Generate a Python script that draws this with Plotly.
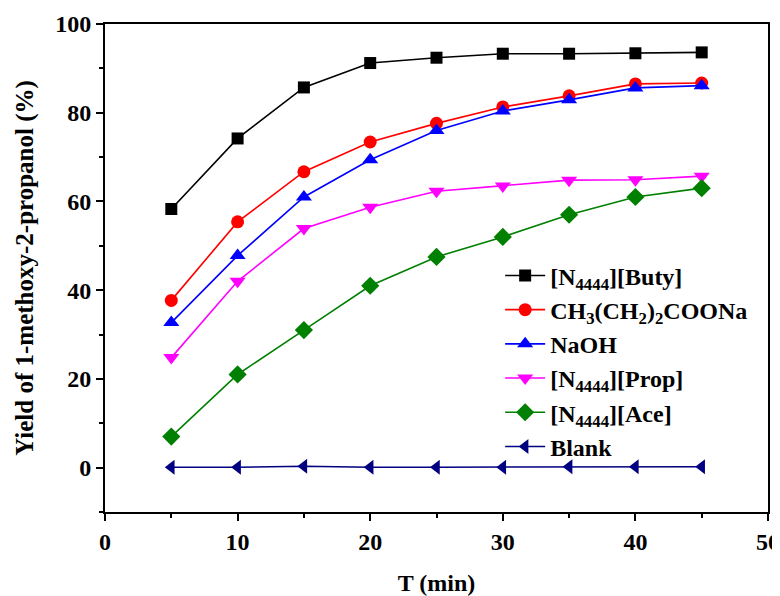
import plotly.graph_objects as go

t = [5, 10, 15, 20, 25, 30, 35, 40, 45]
buty = [58.3, 74.2, 85.7, 91.2, 92.4, 93.3, 93.3, 93.4, 93.6]
ch3 = [37.7, 55.4, 66.7, 73.4, 77.6, 81.3, 83.8, 86.5, 86.7]
naoh = [32.7, 47.8, 61.0, 69.4, 76.0, 80.4, 82.9, 85.6, 86.1]
prop = [24.8, 42.0, 53.9, 58.7, 62.3, 63.5, 64.8, 64.9, 65.7]
ace = [7.0, 21.0, 31.0, 41.0, 47.5, 52.0, 57.0, 61.0, 63.0]
blank = [0.1, 0.1, 0.3, 0.1, 0.1, 0.1, 0.2, 0.2, 0.2]

names = ["[N<sub>4444</sub>][Buty]", "CH<sub>3</sub>(CH<sub>2</sub>)<sub>2</sub>COONa", "NaOH",
         "[N<sub>4444</sub>][Prop]", "[N<sub>4444</sub>][Ace]", "Blank"]
series = [buty, ch3, naoh, prop, ace, blank]
colors = ["#000000", "#FF0000", "#0000FF", "#FF00FF", "#008000", "#000080"]
symbols = ["square", "circle", "triangle-up", "triangle-down", "diamond", "triangle-left"]
sizes = [12, 13, 14, 14, 14, 13]

fig = go.Figure()
for i, (n, s, c, sym, sz) in enumerate(zip(names, series, colors, symbols, sizes)):
    fig.add_trace(go.Scatter(x=t, y=s, name="<b>" + n + "</b>", mode="lines+markers",
                             line=dict(color=c, width=1.6),
                             marker=dict(symbol=sym, size=sz, color=c),
                             legendgroup=str(i)))

font = "Liberation Serif, Times New Roman, serif"
axis_common = dict(showline=True, linecolor="black", linewidth=2, mirror=True,
                   ticks="outside", ticklen=7, tickwidth=2, tickcolor="black",
                   showgrid=False, zeroline=False, automargin=False,
                   tickprefix="<b>", ticksuffix="</b>",
                   tickfont=dict(family=font, size=24, color="black"))
fig.update_xaxes(range=[0, 50], dtick=10, tick0=0,
                 minor=dict(dtick=5, ticks="outside", ticklen=4, tickwidth=2, tickcolor="black"),
                 title=dict(text="<b>T (min)</b>", font=dict(family=font, size=24, color="black"), standoff=34),
                 **axis_common)
fig.update_yaxes(range=[-10, 100], dtick=20, tick0=0,
                 minor=dict(dtick=10, ticks="outside", ticklen=4, tickwidth=2, tickcolor="black"),
                 title=dict(text="<b>Yield of 1-methoxy-2-propanol (%)</b>", font=dict(family=font, size=25, color="black"), standoff=14),
                 **axis_common)
fig.update_layout(
    width=772, height=588,
    margin=dict(l=97, r=12, t=16, b=84),
    plot_bgcolor="white", paper_bgcolor="white",
    font=dict(family=font, size=22, color="black"),
    legend=dict(x=0.596, y=0.53, xanchor="left", yanchor="top",
                bgcolor="rgba(0,0,0,0)", tracegroupgap=0,
                font=dict(family=font, size=24, color="black"), itemwidth=40),
)
fig.write_html("out.html")
